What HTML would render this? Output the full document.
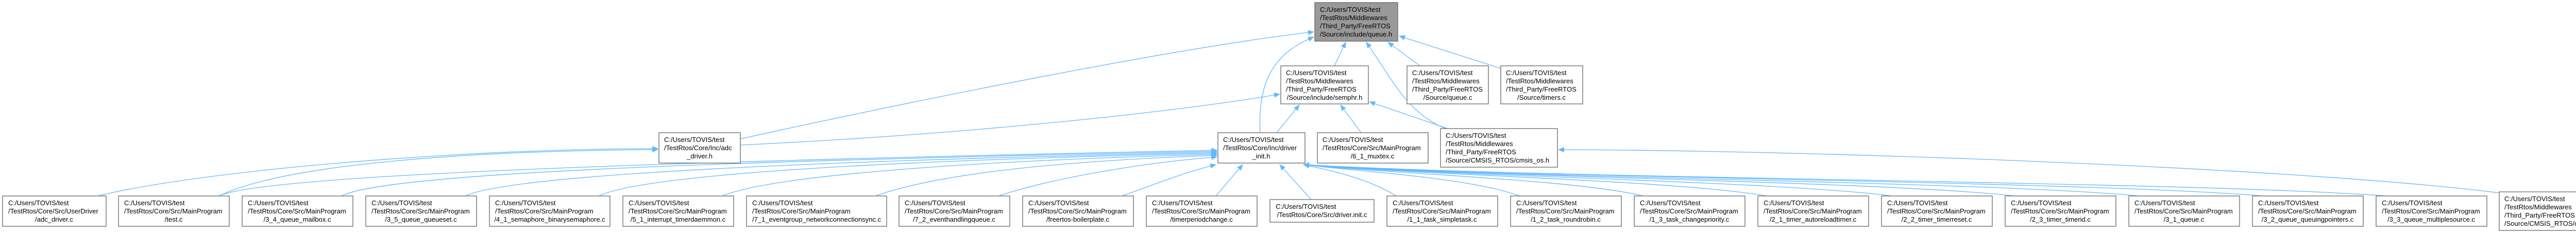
<!DOCTYPE html>
<html><head><meta charset="utf-8"><style>
html,body{margin:0;padding:0;background:#fff;}
svg{display:block;}
text{font-family:"Liberation Sans",Arial,sans-serif;font-size:13px;fill:#000;}
.b{fill:#fff;stroke:#666;stroke-width:1.3;}
.g{fill:#999;stroke:#666;stroke-width:1.3;}
.e{fill:none;stroke:#63b8ff;stroke-width:1.3;}
</style></head><body>
<svg width="5084" height="453" viewBox="0 0 5084 453" xmlns="http://www.w3.org/2000/svg">
<defs><marker id="a" markerUnits="userSpaceOnUse" markerWidth="12" markerHeight="10" refX="11" refY="5" orient="auto"><path d="M0,0 L12,5 L0,10 z" fill="#63b8ff"/></marker></defs>
<g marker-end="url(#a)">
<path class="e" d="M189,381 C400,330 900,289 1277,289"/>
<path class="e" d="M425,381 C550,320 900,293 1277,291"/>
<path class="e" d="M425,381 C520,335 1500,310 2362,292"/>
<path class="e" d="M663,381 C760,330 1600,310 2362,294"/>
<path class="e" d="M903,381 C1000,335 1700,310 2362,296"/>
<path class="e" d="M1162,381 C1260,335 1800,310 2362,298"/>
<path class="e" d="M1402,381 C1500,340 1900,312 2362,300"/>
<path class="e" d="M1699,381 C1800,345 2000,315 2362,302"/>
<path class="e" d="M1938,381 C2030,350 2200,318 2362,305"/>
<path class="e" d="M2178,381 C2250,355 2300,335 2360,320"/>
<path class="e" d="M2360,381 L2412,320"/>
<path class="e" d="M2545,388 L2484,320"/>
<path class="e" d="M2710,381 C2660,350 2600,335 2530,320"/>
<path class="e" d="M2950,381 C2850,345 2650,335 2530,320"/>
<path class="e" d="M3190,381 C3050,348 2700,338 2530,320"/>
<path class="e" d="M3430,381 C3250,350 2750,340 2530,320"/>
<path class="e" d="M3672,381 C3450,352 2800,342 2530,320"/>
<path class="e" d="M3912,381 C3650,352 2850,344 2530,320"/>
<path class="e" d="M4152,381 C3850,352 2900,346 2530,320"/>
<path class="e" d="M4392,381 C4050,352 2950,346 2530,320"/>
<path class="e" d="M4632,381 C4250,352 3000,348 2530,320"/>
<path class="e" d="M4851,375 C4500,330 3600,293 3025,291"/>
<path class="e" d="M1437,270 C1800,190 2300,90 2550,62"/>
<path class="e" d="M1437,282 C1900,260 2300,215 2484,183"/>
<path class="e" d="M2446,258 C2440,150 2480,100 2550,72"/>
<path class="e" d="M2478,258 L2522,204"/>
<path class="e" d="M2642,258 L2602,204"/>
<path class="e" d="M2810,250 L2658,198"/>
<path class="e" d="M2806,250 C2730,220 2700,150 2652,82"/>
<path class="e" d="M2590,128 L2612,82"/>
<path class="e" d="M2756,128 L2694,82"/>
<path class="e" d="M2913,133 L2716,70"/>
</g>

<rect class="g" x="2552" y="5" width="161" height="75"/>
<text x="2562" y="23">C:/Users/TOVIS/test</text><text x="2562" y="39">/TestRtos/Middlewares</text><text x="2562" y="55">/Third_Party/FreeRTOS</text><text x="2632" y="71" text-anchor="middle">/Source/include/queue.h</text>

<rect class="b" x="2486" y="128" width="170" height="74"/>
<text x="2496" y="146">C:/Users/TOVIS/test</text><text x="2496" y="162">/TestRtos/Middlewares</text><text x="2496" y="178">/Third_Party/FreeRTOS</text><text x="2571" y="194" text-anchor="middle">/Source/include/semphr.h</text>

<rect class="b" x="2731" y="128" width="158" height="74"/>
<text x="2741" y="146">C:/Users/TOVIS/test</text><text x="2741" y="162">/TestRtos/Middlewares</text><text x="2741" y="178">/Third_Party/FreeRTOS</text><text x="2810" y="194" text-anchor="middle">/Source/queue.c</text>

<rect class="b" x="2913" y="128" width="159" height="74"/>
<text x="2923" y="146">C:/Users/TOVIS/test</text><text x="2923" y="162">/TestRtos/Middlewares</text><text x="2923" y="178">/Third_Party/FreeRTOS</text><text x="2992" y="194" text-anchor="middle">/Source/timers.c</text>

<rect class="b" x="1279" y="258" width="158" height="59"/>
<text x="1289" y="276">C:/Users/TOVIS/test</text><text x="1289" y="292">/TestRtos/Core/Inc/adc</text><text x="1358" y="308" text-anchor="middle">_driver.h</text>

<rect class="b" x="2364" y="258" width="169" height="59"/>
<text x="2374" y="276">C:/Users/TOVIS/test</text><text x="2374" y="292">/TestRtos/Core/Inc/driver</text><text x="2448" y="308" text-anchor="middle">_init.h</text>

<rect class="b" x="2557" y="258" width="215" height="59"/>
<text x="2567" y="276">C:/Users/TOVIS/test</text><text x="2567" y="292">/TestRtos/Core/Src/MainProgram</text><text x="2664" y="308" text-anchor="middle">/6_1_muxtex.c</text>

<rect class="b" x="2796" y="250" width="227" height="75"/>
<text x="2806" y="268">C:/Users/TOVIS/test</text><text x="2806" y="284">/TestRtos/Middlewares</text><text x="2806" y="300">/Third_Party/FreeRTOS</text><text x="2806" y="316">/Source/CMSIS_RTOS/cmsis_os.h</text>

<rect class="b" x="5" y="381" width="201" height="59"/>
<text x="16" y="399">C:/Users/TOVIS/test</text><text x="16" y="415">/TestRtos/Core/Src/UserDriver</text><text x="105" y="431" text-anchor="middle">/adc_driver.c</text>

<rect class="b" x="230" y="381" width="215" height="59"/>
<text x="241" y="399">C:/Users/TOVIS/test</text><text x="241" y="415">/TestRtos/Core/Src/MainProgram</text><text x="337" y="431" text-anchor="middle">/test.c</text>

<rect class="b" x="470" y="381" width="215" height="59"/>
<text x="481" y="399">C:/Users/TOVIS/test</text><text x="481" y="415">/TestRtos/Core/Src/MainProgram</text><text x="577" y="431" text-anchor="middle">/3_4_queue_mailbox.c</text>

<rect class="b" x="710" y="381" width="215" height="59"/>
<text x="721" y="399">C:/Users/TOVIS/test</text><text x="721" y="415">/TestRtos/Core/Src/MainProgram</text><text x="817" y="431" text-anchor="middle">/3_5_queue_queueset.c</text>

<rect class="b" x="950" y="381" width="234" height="59"/>
<text x="961" y="399">C:/Users/TOVIS/test</text><text x="961" y="415">/TestRtos/Core/Src/MainProgram</text><text x="1067" y="431" text-anchor="middle">/4_1_semaphore_binarysemaphore.c</text>

<rect class="b" x="1209" y="381" width="215" height="59"/>
<text x="1220" y="399">C:/Users/TOVIS/test</text><text x="1220" y="415">/TestRtos/Core/Src/MainProgram</text><text x="1316" y="431" text-anchor="middle">/5_1_interrupt_timerdaemmon.c</text>

<rect class="b" x="1449" y="381" width="272" height="59"/>
<text x="1460" y="399">C:/Users/TOVIS/test</text><text x="1460" y="415">/TestRtos/Core/Src/MainProgram</text><text x="1585" y="431" text-anchor="middle">/7_1_eventgroup_networkconnectionsync.c</text>

<rect class="b" x="1745" y="381" width="215" height="59"/>
<text x="1756" y="399">C:/Users/TOVIS/test</text><text x="1756" y="415">/TestRtos/Core/Src/MainProgram</text><text x="1852" y="431" text-anchor="middle">/7_2_eventhandlingqueue.c</text>

<rect class="b" x="1985" y="381" width="215" height="59"/>
<text x="1996" y="399">C:/Users/TOVIS/test</text><text x="1996" y="415">/TestRtos/Core/Src/MainProgram</text><text x="2092" y="431" text-anchor="middle">/freertos-boilerplate.c</text>

<rect class="b" x="2225" y="381" width="215" height="59"/>
<text x="2236" y="399">C:/Users/TOVIS/test</text><text x="2236" y="415">/TestRtos/Core/Src/MainProgram</text><text x="2332" y="431" text-anchor="middle">/timerperiodchange.c</text>

<rect class="b" x="2465" y="388" width="202" height="44"/>
<text x="2476" y="406">C:/Users/TOVIS/test</text><text x="2566" y="422" text-anchor="middle">/TestRtos/Core/Src/driver.init.c</text>

<rect class="b" x="2692" y="381" width="215" height="59"/>
<text x="2703" y="399">C:/Users/TOVIS/test</text><text x="2703" y="415">/TestRtos/Core/Src/MainProgram</text><text x="2799" y="431" text-anchor="middle">/1_1_task_simpletask.c</text>

<rect class="b" x="2932" y="381" width="215" height="59"/>
<text x="2943" y="399">C:/Users/TOVIS/test</text><text x="2943" y="415">/TestRtos/Core/Src/MainProgram</text><text x="3039" y="431" text-anchor="middle">/1_2_task_roundrobin.c</text>

<rect class="b" x="3172" y="381" width="215" height="59"/>
<text x="3183" y="399">C:/Users/TOVIS/test</text><text x="3183" y="415">/TestRtos/Core/Src/MainProgram</text><text x="3279" y="431" text-anchor="middle">/1_3_task_changepriority.c</text>

<rect class="b" x="3412" y="381" width="215" height="59"/>
<text x="3423" y="399">C:/Users/TOVIS/test</text><text x="3423" y="415">/TestRtos/Core/Src/MainProgram</text><text x="3519" y="431" text-anchor="middle">/2_1_timer_autoreloadtimer.c</text>

<rect class="b" x="3652" y="381" width="215" height="59"/>
<text x="3663" y="399">C:/Users/TOVIS/test</text><text x="3663" y="415">/TestRtos/Core/Src/MainProgram</text><text x="3759" y="431" text-anchor="middle">/2_2_timer_timerreset.c</text>

<rect class="b" x="3892" y="381" width="215" height="59"/>
<text x="3903" y="399">C:/Users/TOVIS/test</text><text x="3903" y="415">/TestRtos/Core/Src/MainProgram</text><text x="3999" y="431" text-anchor="middle">/2_3_timer_timerid.c</text>

<rect class="b" x="4132" y="381" width="215" height="59"/>
<text x="4143" y="399">C:/Users/TOVIS/test</text><text x="4143" y="415">/TestRtos/Core/Src/MainProgram</text><text x="4239" y="431" text-anchor="middle">/3_1_queue.c</text>

<rect class="b" x="4372" y="381" width="215" height="59"/>
<text x="4383" y="399">C:/Users/TOVIS/test</text><text x="4383" y="415">/TestRtos/Core/Src/MainProgram</text><text x="4479" y="431" text-anchor="middle">/3_2_queue_queuingpointers.c</text>

<rect class="b" x="4612" y="381" width="215" height="59"/>
<text x="4623" y="399">C:/Users/TOVIS/test</text><text x="4623" y="415">/TestRtos/Core/Src/MainProgram</text><text x="4719" y="431" text-anchor="middle">/3_3_queue_multiplesource.c</text>

<rect class="b" x="4851" y="373" width="227" height="75"/>
<text x="4861" y="391">C:/Users/TOVIS/test</text><text x="4861" y="407">/TestRtos/Middlewares</text><text x="4861" y="423">/Third_Party/FreeRTOS</text><text x="4861" y="439">/Source/CMSIS_RTOS/cmsis_os.c</text>
</svg>
</body></html>
